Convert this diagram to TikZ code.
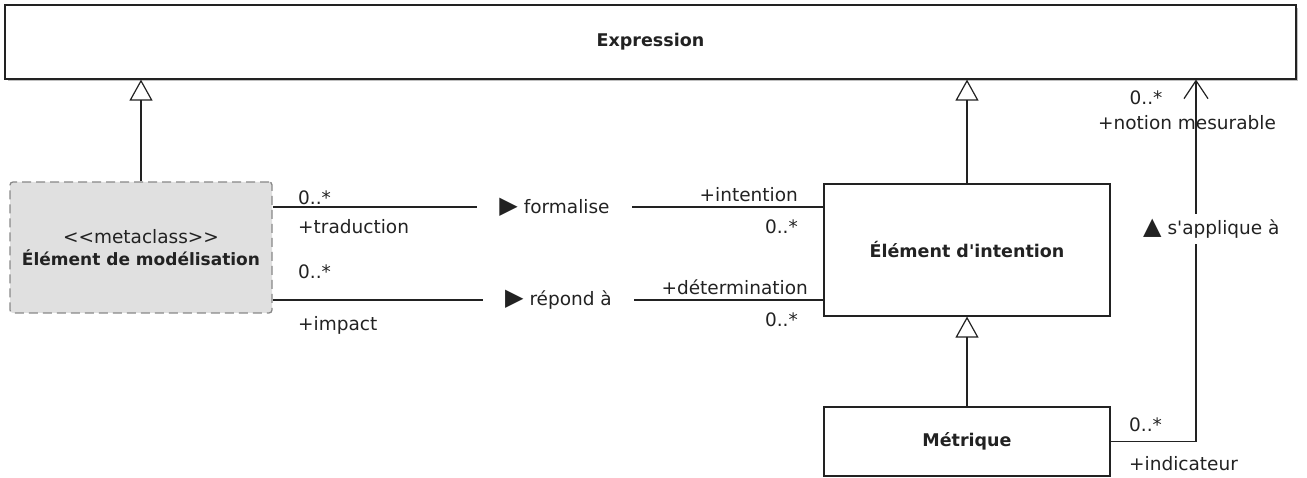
\documentclass[tikz,border=0pt]{standalone}
\usepackage{fontspec}
\setmainfont{DejaVu Sans}[Ligatures=TeXOff]
\usetikzlibrary{arrows.meta}
\definecolor{linec}{HTML}{222222}
\definecolor{metafill}{HTML}{E0E0E0}
\definecolor{metaborder}{HTML}{888888}
\newcommand{\bigtri}[1]{{\fontsize{24}{24}\selectfont #1}}
\begin{document}
\begin{tikzpicture}[x=1pt,y=-1pt,
  every node/.style={font=\fontsize{18.5}{22}\selectfont, text=linec},
  bf/.style={font=\fontsize{17.5}{21}\selectfont\bfseries},
  cls/.style={draw=linec, line width=1.2pt, fill=white, minimum width=#1, inner sep=0pt, bf},
  meta/.style={draw=metaborder, line width=1.3pt, dash pattern=on 9pt off 5pt, fill=metafill, rounded corners=3pt, minimum width=262pt, minimum height=131pt, align=center, inner sep=0pt},
  gen/.style={draw=linec, line width=1.2pt, -{Triangle[open, length=21pt, width=23pt, line width=1.2pt]}},
  assoc/.style={draw=linec, line width=1.2pt},
  nav/.style={draw=linec, line width=1.2pt, -{Straight Barb[length=18pt, width=24pt, line width=1.2pt]}},
  lab/.style={inner sep=0pt},
  rel/.style={inner sep=0pt, fill=white, minimum height=30pt}
]
\useasboundingbox (0,0) rectangle (1307,478);

% classes
\fill[black!25] (8,8) rectangle (1298,81);
\node[cls=1291pt, minimum height=74pt] (expr) at (650.5,42) {Expression};
\node[meta] (model) at (141,247.5) {<<metaclass>>\\[0pt]{\fontsize{17}{21}\selectfont\bfseries Élément de modélisation}};
\node[cls=286pt, minimum height=132pt] (intent) at (967,250) {Élément d'intention};
\node[cls=286pt, minimum height=69pt] (metric) at (967,441.5) {Métrique};

% generalizations
\draw[gen] (model.north) -- (model.north |- expr.south);
\draw[gen] (intent.north) -- (intent.north |- expr.south);
\draw[gen] (metric.north) -- (intent.south);

% association: formalise
\node[lab, minimum width=155pt] (f) at (554.5,207) {\bigtri{▶}\ formalise};
\draw[assoc] (model.east |- f.west) -- (f.west);
\draw[assoc] (f.east) -- (intent.west |- f.east);

% association: répond à
\node[lab, minimum width=151pt] (r) at (558.5,300) {\bigtri{▶}\ répond à};
\draw[assoc] (model.east |- r.west) -- (r.west);
\draw[assoc] (r.east) -- (intent.west |- r.east);

% association: s'applique à
\coordinate (corner) at (1196,441.5);
\draw[nav] (metric.east) -- (corner) -- (corner |- expr.south);
\node[rel, anchor=west] (s) at (1143,229) {\bigtri{▲}\ s'applique à};

% multiplicities and roles
\node[lab, anchor=west] (m1) at (298,198) {0..*};
\node[lab, anchor=west] (m2) at (298,227) {+traduction};
\node[lab, anchor=west] (m3) at (298,272) {0..*};
\node[lab, anchor=west] (m4) at (298,325) {+impact};
\node[lab, anchor=east] (m5) at (798,195) {+intention};
\node[lab, anchor=east] (m6) at (798,227) {0..*};
\node[lab, anchor=east] (m7) at (808,287) {+détermination};
\node[lab, anchor=east] (m8) at (798,320) {0..*};
\node[lab] (m9) at (1146,98) {0..*};
\node[lab] (m10) at (1187,123) {+notion mesurable};
\node[lab, anchor=west] (m11) at (1129,425) {0..*};
\node[lab, anchor=west] (m12) at (1129,464) {+indicateur};
\end{tikzpicture}
\end{document}
